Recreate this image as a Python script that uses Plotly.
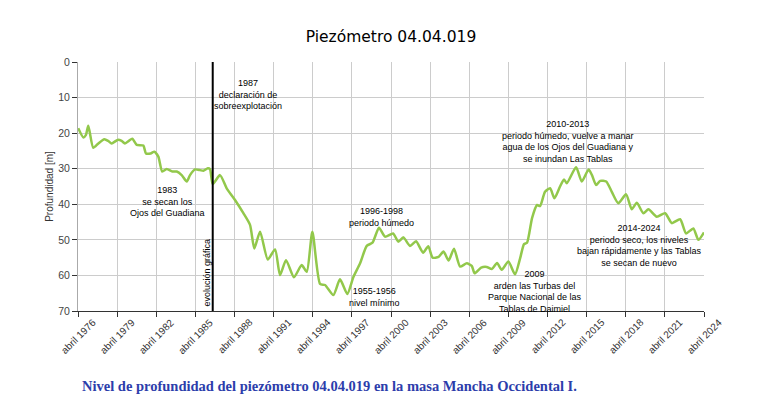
import plotly.graph_objects as go

# Data (decimal year, depth in metres)
years = [1976.27, 1976.66, 1976.86, 1977.04, 1977.42, 1977.81, 1978.27, 1978.57, 1978.83, 1979.29,
         1979.60, 1979.85, 1980.41, 1980.75, 1981.26, 1981.46, 1981.82, 1982.10, 1982.41, 1982.71,
         1983.05, 1983.48, 1983.82, 1984.20, 1984.59, 1984.84, 1985.22, 1985.61, 1985.86, 1986.20,
         1986.37, 1986.58, 1987.14, 1987.65, 1988.29, 1988.93, 1989.44, 1989.77, 1990.21, 1990.80,
         1991.36, 1991.74, 1992.20, 1992.81, 1993.40, 1993.79, 1994.22, 1994.81, 1995.19, 1995.83,
         1996.34, 1996.90, 1997.36, 1997.88, 1998.39, 1998.83, 1999.33, 1999.79, 2000.41, 2000.81,
         2001.20, 2001.71, 2002.17, 2002.71, 2003.11, 2003.44, 2003.90, 2004.28, 2004.67, 2005.08,
         2005.55, 2006.06, 2006.44, 2006.66, 2007.16, 2007.59, 2007.98, 2008.38, 2008.74, 2009.25,
         2009.76, 2010.15, 2010.45, 2010.68, 2011.07, 2011.45, 2011.68, 2012.06, 2012.45, 2012.78,
         2013.21, 2013.52, 2013.73, 2014.44, 2014.88, 2015.40, 2015.66, 2015.98, 2016.29, 2016.75,
         2017.18, 2017.68, 2018.27, 2018.71, 2019.10, 2019.60, 2019.99, 2020.63, 2021.27, 2021.78,
         2022.42, 2022.88, 2023.43, 2023.82, 2024.25]
depth = [18.6, 21.2, 20.5, 17.9, 24.1, 22.9, 21.7, 22.2, 22.9, 21.9,
         22.2, 22.9, 21.6, 23.3, 23.5, 25.7, 25.7, 25.2, 26.6, 30.8,
         30.1, 30.8, 30.8, 31.8, 33.6, 31.8, 30.2, 30.4, 30.6, 29.9,
         30.1, 34.3, 31.8, 35.5, 38.8, 42.5, 45.8, 52.4, 47.7, 55.5,
         52.7, 59.9, 55.7, 60.5, 57.1, 59.0, 47.7, 62.4, 62.7, 65.5,
         61.1, 65.2, 60.5, 56.6, 51.7, 50.8, 46.6, 49.1, 48.2, 50.5,
         49.3, 51.7, 50.4, 53.6, 51.8, 55.0, 54.8, 53.3, 55.8, 52.5,
         57.5, 56.6, 57.3, 59.4, 57.8, 57.6, 58.2, 56.5, 58.4, 56.1,
         59.7, 55.2, 51.2, 50.8, 43.8, 40.2, 40.5, 36.5, 35.5, 38.3,
         35.0, 33.0, 34.1, 29.6, 33.6, 30.2, 31.8, 34.6, 33.4, 33.6,
         36.5, 39.7, 37.2, 41.4, 39.6, 42.5, 41.4, 43.5, 42.5, 45.3,
         44.2, 48.2, 46.8, 50.0, 47.9]

tick_years = [1976, 1979, 1982, 1985, 1988, 1991, 1994, 1997, 2000, 2003,
              2006, 2009, 2012, 2015, 2018, 2021, 2024]
tick_vals = [y + 0.25 for y in tick_years]
tick_text = ["abril %d" % y for y in tick_years]

marker_year = 1986.58

notes = [
    (1989.3, 9.0, "1987<br>declaración de<br>sobreexplotación"),
    (1983.15, 39.1, "1983<br>se secan los<br>Ojos del Guadiana"),
    (1999.5, 43.6, "1996-1998<br>periodo húmedo"),
    (1998.95, 66.2, "1955-1956<br>nivel mínimo"),
    (2011.3, 64.4, "2009<br>arden las Turbas del<br>Parque Nacional de las<br>Tablas de Daimiel"),
    (2013.8, 22.4, "2010-2013<br>periodo húmedo, vuelve a manar<br>agua de los Ojos del Guadiana y<br>se inundan Las Tablas"),
    (2019.25, 51.7, "2014-2024<br>periodo seco, los niveles<br>bajan rápidamente y las Tablas<br>se secan de nuevo"),
]

W, H = 774, 394
ML, MT, MR = 70, 54, 78
PW, PH = 626, 249
MB = H - MT - PH

fig = go.Figure()
fig.add_trace(go.Scatter(
    x=years, y=depth, mode="lines",
    line=dict(color="#92c84b", width=2.5, shape="spline", smoothing=0.6),
    hoverinfo="skip", showlegend=False,
))

fig.add_shape(type="line", xref="x", yref="y", x0=marker_year, x1=marker_year, y0=0, y1=70,
              line=dict(color="black", width=2))

for x, y, t in notes:
    fig.add_annotation(x=x, y=y, xref="x", yref="y", text=t, showarrow=False,
                       font=dict(family="Liberation Sans, Arial", size=9, color="black"),
                       align="center")

fig.add_annotation(x=marker_year - 0.45, y=59.2, xref="x", yref="y", text="evolución gráfica",
                   textangle=-90, showarrow=False,
                   font=dict(family="Liberation Sans, Arial", size=9, color="black"))

# x tick labels, rotated and centred on their ticks
for tv, tt in zip(tick_vals, tick_text):
    fig.add_annotation(x=tv, y=-(336 - 8 - (MT + PH)) / PH, xref="x", yref="paper", text=tt,
                       textangle=-45, showarrow=False, xanchor="center", yanchor="middle",
                       font=dict(family="Liberation Sans, Arial", size=10, color="#333333"))

# caption below the chart (figure pixel 72, 378)
fig.add_annotation(x=(72 - ML) / PW, y=(MT + PH - 378) / PH, xref="paper", yref="paper",
                   text="<b>Nivel de profundidad del piezómetro 04.04.019 en la masa Mancha Occidental I.</b>",
                   showarrow=False,
                   font=dict(family="Liberation Serif, Times New Roman", size=14.5, color="#2c3dab"),
                   xanchor="left", yanchor="middle")

fig.update_layout(
    width=W, height=H,
    margin=dict(l=ML, r=MR, t=MT, b=MB, autoexpand=False),
    paper_bgcolor="white", plot_bgcolor="white",
    title=dict(text="Piezómetro 04.04.019", x=383 / W, xanchor="center",
               y=1 - 29 / H, yanchor="middle",
               font=dict(family="DejaVu Sans", size=15.5, color="black")),
    font=dict(family="Liberation Sans, Arial", color="#333333"),
)
fig.update_xaxes(
    range=[1976.25, 2024.25], tickvals=tick_vals, ticktext=tick_text, showticklabels=False,
    showgrid=True, gridcolor="#cccccc", gridwidth=1,
    showline=True, linecolor="#333333", linewidth=1,
    ticks="outside", ticklen=5, tickcolor="#333333", zeroline=False,
)
fig.update_yaxes(
    range=[70, 0], tickvals=[0, 10, 20, 30, 40, 50, 60, 70],
    showgrid=True, gridcolor="#cccccc", gridwidth=1,
    showline=True, linecolor="#aaaaaa", linewidth=1, mirror=False,
    ticks="outside", ticklen=5, tickcolor="#333333",
    tickfont=dict(size=10.5, color="#444444"), zeroline=False,
    title=dict(text="Profundidad [m]", font=dict(size=10, color="#333333"), standoff=2),
)

fig.write_html("out.html")
